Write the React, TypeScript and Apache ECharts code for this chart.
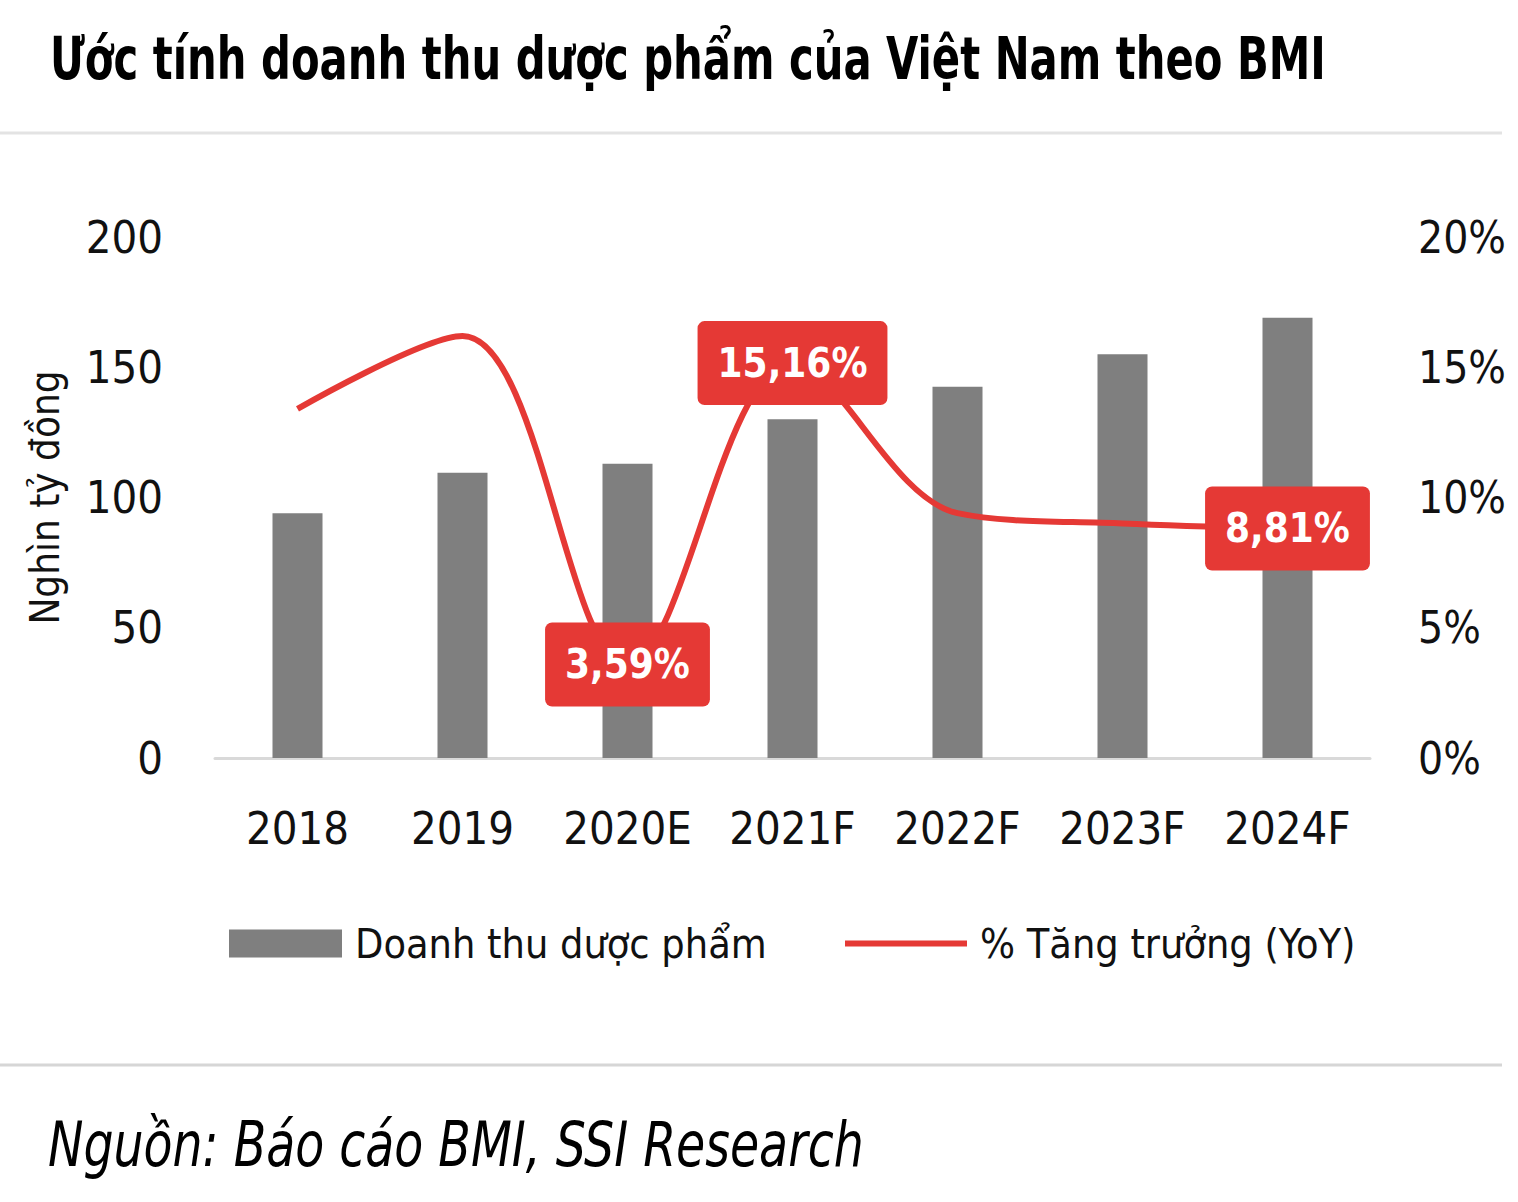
import React, { useEffect, useRef } from "react";
import * as echarts from "echarts";

const categories = ["2018", "2019", "2020E", "2021F", "2022F", "2023F", "2024F"];
const revenue = [94, 109.5, 113, 130, 142.5, 155, 169];
const growth = [13.4, 16.2, 3.59, 15.16, 9.4, 9.0, 8.81];
const labeledIdx = [2, 3, 6];
const leftTicks = { min: 0, max: 200, interval: 50 };
const rightTicks = { min: 0, max: 20, interval: 5 };

const TITLE = "Ước tính doanh thu dược phẩm của Việt Nam theo BMI";
const SOURCE = "Nguồn: Báo cáo BMI, SSI Research";
const Y_NAME = "Nghìn tỷ đồng";
const BAR_NAME = "Doanh thu dược phẩm";
const LINE_NAME = "% Tăng trưởng (YoY)";

const FONT = "'Liberation Sans Narrow', 'Arial Narrow', 'DejaVu Sans Condensed', sans-serif";
const RED = "#E53935";
const GRAY = "#7F7F7F";
const INK = "#111111";

export default function App() {
  const ref = useRef<HTMLDivElement>(null);
  useEffect(() => {
    if (!ref.current) return;
    const chart = echarts.init(ref.current, undefined, { renderer: "svg" });
    const fmt = (v: number) => v.toFixed(2).replace(".", ",") + "%";
    chart.setOption({
      animation: false,
      backgroundColor: "#ffffff",
      textStyle: { fontFamily: FONT },
      grid: { left: 215, right: 148, top: 237, bottom: 444, containLabel: false },
      legend: [
        {
          data: [{ name: BAR_NAME, icon: "rect" }],
          left: 224,
          top: 918,
          itemWidth: 113,
          itemHeight: 28,
          textStyle: { fontFamily: FONT, fontSize: 41, color: INK, padding: [0, 0, 0, 8] },
        },
        {
          data: [{ name: LINE_NAME, icon: "rect" }],
          left: 840,
          top: 918,
          itemWidth: 122,
          itemHeight: 6,
          textStyle: { fontFamily: FONT, fontSize: 41, color: INK, padding: [0, 0, 0, 8] },
        },
      ],
      xAxis: {
        type: "category",
        data: categories,
        axisLine: { show: true, lineStyle: { color: "#D9D9D9", width: 3 } },
        axisTick: { show: false },
        axisLabel: { fontFamily: FONT, fontSize: 45, color: INK, margin: 48, interval: 0 },
      },
      yAxis: [
        {
          type: "value",
          ...leftTicks,
          name: Y_NAME,
          nameLocation: "middle",
          nameRotate: 90,
          nameGap: 150,
          nameTextStyle: { fontFamily: FONT, fontSize: 40, color: INK },
          axisLine: { show: false },
          axisTick: { show: false },
          splitLine: { show: false },
          axisLabel: { fontFamily: FONT, fontSize: 45, color: INK, margin: 52 },
        },
        {
          type: "value",
          ...rightTicks,
          position: "right",
          axisLine: { show: false },
          axisTick: { show: false },
          splitLine: { show: false },
          axisLabel: {
            fontFamily: FONT,
            fontSize: 44,
            color: INK,
            margin: 48,
            formatter: "{value}%",
          },
        },
      ],
      series: [
        {
          name: BAR_NAME,
          type: "bar",
          data: revenue,
          barWidth: 50,
          itemStyle: { color: GRAY },
          z: 1,
        },
        {
          name: LINE_NAME,
          type: "line",
          yAxisIndex: 1,
          smooth: 0.35,
          color: RED,
          symbol: "circle",
          symbolSize: 0,
          showSymbol: true,
          lineStyle: { color: RED, width: 6 },
          itemStyle: { color: RED },
          z: 3,
          data: growth.map((v, i) =>
            labeledIdx.includes(i)
              ? {
                  value: v,
                  label: {
                    show: true,
                    position: "inside",
                    formatter: () => fmt(v),
                    backgroundColor: RED,
                    borderRadius: 7,
                    padding: [22, 20, 22, 20],
                    color: "#fff",
                    fontFamily: FONT,
                    fontWeight: "bold",
                    fontSize: 40,
                  },
                }
              : { value: v, label: { show: false } }
          ),
        },
      ],
      graphic: [
        {
          type: "text",
          x: 50,
          y: 30,
          scaleX: 0.8,
          style: {
            text: TITLE,
            fontFamily: FONT,
            fontWeight: "bold",
            fontSize: 58,
            fill: "#000",
            textVerticalAlign: "top",
          },
        },
        {
          type: "line",
          shape: { x1: 0, y1: 133, x2: 1502, y2: 133 },
          style: { stroke: "#E3E3E3", lineWidth: 3 },
        },
        {
          type: "line",
          shape: { x1: 0, y1: 1065, x2: 1502, y2: 1065 },
          style: { stroke: "#D6D6D6", lineWidth: 3 },
        },
        {
          type: "text",
          x: 48,
          y: 1114,
          scaleX: 0.85,
          style: {
            text: SOURCE,
            fontFamily: FONT,
            fontStyle: "italic",
            fontSize: 62,
            fill: "#000",
            textVerticalAlign: "top",
          },
        },
      ],
    });
    return () => chart.dispose();
  }, []);
  return (
    <div
      ref={ref}
      style={{ position: "absolute", left: 0, top: 0, width: 1518, height: 1202 }}
    />
  );
}
